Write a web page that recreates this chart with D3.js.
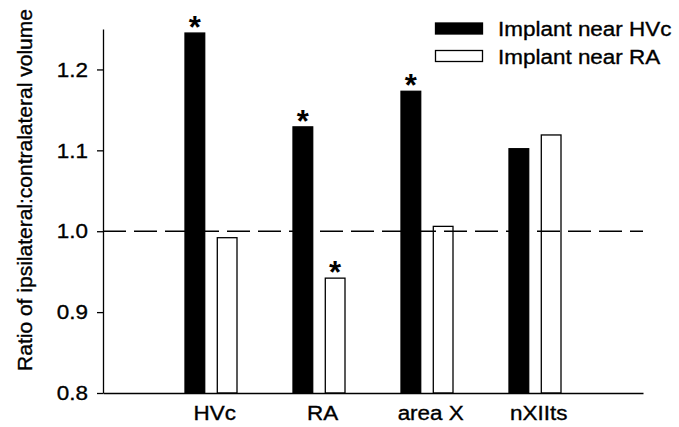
<!DOCTYPE html>
<html>
<head>
<meta charset="utf-8">
<script src="https://cdn.jsdelivr.net/npm/d3@7"></script>
<style>
  body { margin: 0; background: #fff; }
  svg { display: block; font-family: "Liberation Sans", Arial, Helvetica, sans-serif; }
  .lbl { stroke: #000; stroke-width: 0.35px; }
</style>
</head>
<body>
<svg id="chart"></svg>
<script>
// Data
const regions = ['HVc', 'RA', 'area X', 'nXIIts'];
const groups = ['Implant near HVc', 'Implant near RA'];
const nearHVc = [1.245, 1.129, 1.173, 1.102];
const nearRA = [0.992, 0.942, 1.006, 1.119];
const sigHVc = [true, true, true, false];
const sigRA = [false, true, false, false];
const yTicks = [0.8, 0.9, 1.0, 1.1, 1.2];
const yLabel = 'Ratio of ipsilateral:contralateral volume';

const config = {
  width: 679,
  height: 427,
  margin: { top: 29, right: 36, bottom: 34, left: 103 },
  textScale: 1.07
};

const innerW = config.width - config.margin.left - config.margin.right;
const innerH = config.height - config.margin.top - config.margin.bottom;

const svg = d3.select('#chart')
  .attr('width', config.width)
  .attr('height', config.height);

const chart = svg.append('g')
  .attr('transform', `translate(${config.margin.left},${config.margin.top})`);

// scales
const xScale = d3.scalePoint()
  .domain(regions)
  .range([0, innerW])
  .padding(1);

const xInner = d3.scaleBand()
  .domain(groups)
  .range([-26, 26])
  .paddingInner(0.39);

const yScale = d3.scaleLinear()
  .domain([0.8, 1.25])
  .range([innerH, 0]);

const rows = regions.map((r, i) => [
  { region: r, group: groups[0], value: nearHVc[i], sig: sigHVc[i] },
  { region: r, group: groups[1], value: nearRA[i], sig: sigRA[i] }
]).flat();

// bars
chart.selectAll('.bar')
  .data(rows)
  .join('rect')
  .attr('class', 'bar')
  .attr('x', d => xScale(d.region) + xInner(d.group))
  .attr('width', xInner.bandwidth())
  .attr('y', d => yScale(d.value))
  .attr('height', d => innerH - yScale(d.value))
  .attr('fill', d => d.group === groups[0] ? '#000' : '#fff')
  .attr('stroke', '#000')
  .attr('stroke-width', 1.3);

// reference line at 1.0
chart.append('line')
  .attr('x1', 0)
  .attr('x2', innerW)
  .attr('y1', yScale(1.0))
  .attr('y2', yScale(1.0))
  .attr('stroke', '#000')
  .attr('stroke-width', 1.5)
  .attr('stroke-dasharray', '23,8');

// significance stars
chart.selectAll('.star')
  .data(rows.filter(d => d.sig))
  .join('text')
  .attr('class', 'star')
  .attr('x', d => xScale(d.region) + xInner(d.group) + xInner.bandwidth() / 2)
  .attr('y', d => yScale(d.value) + 5)
  .attr('text-anchor', 'middle')
  .style('font-size', '31px')
  .style('font-weight', 'bold')
  .text('*');

// axes
const yAxis = d3.axisLeft(yScale)
  .tickValues(yTicks)
  .tickFormat(d3.format('.1f'))
  .tickSize(6)
  .tickSizeOuter(0)
  .tickPadding(8);

const yAxisG = chart.append('g').call(yAxis);
yAxisG.selectAll('text')
  .attr('class', 'lbl')
  .attr('fill', '#000')
  .style('font-size', '21px')
  .attr('transform', `scale(${config.textScale},1)`);
yAxisG.selectAll('line, path').attr('stroke', '#000').attr('stroke-width', 1.3);

const xAxis = d3.axisBottom(xScale)
  .tickSize(0)
  .tickSizeOuter(0)
  .tickPadding(12);

const xAxisG = chart.append('g')
  .attr('transform', `translate(0,${innerH})`)
  .call(xAxis);
xAxisG.selectAll('text')
  .attr('class', 'lbl')
  .attr('fill', '#000')
  .attr('dx', 3)
  .style('font-size', '21px')
  .attr('transform', `scale(${config.textScale},1)`);
xAxisG.select('.domain').attr('stroke', '#000').attr('stroke-width', 1.3);

// y axis title
svg.append('text')
  .attr('class', 'lbl')
  .attr('transform', 'translate(32,190) rotate(-90)')
  .attr('text-anchor', 'middle')
  .style('font-size', '21px')
  .text(yLabel);

// legend
const legend = svg.append('g').attr('transform', 'translate(435,22)');
const legendItems = legend.selectAll('.legend-item')
  .data(groups)
  .join('g')
  .attr('class', 'legend-item')
  .attr('transform', (d, i) => `translate(0,${i * 27.5})`);

legendItems.append('rect')
  .attr('x', 0.5)
  .attr('y', 1)
  .attr('width', 47)
  .attr('height', 11)
  .attr('fill', (d, i) => i === 0 ? '#000' : '#fff')
  .attr('stroke', '#000')
  .attr('stroke-width', 1.3);

legendItems.append('text')
  .attr('class', 'lbl')
  .attr('transform', `translate(63,14) scale(${config.textScale},1)`)
  .style('font-size', '21px')
  .text(d => d);
</script>
</body>
</html>
